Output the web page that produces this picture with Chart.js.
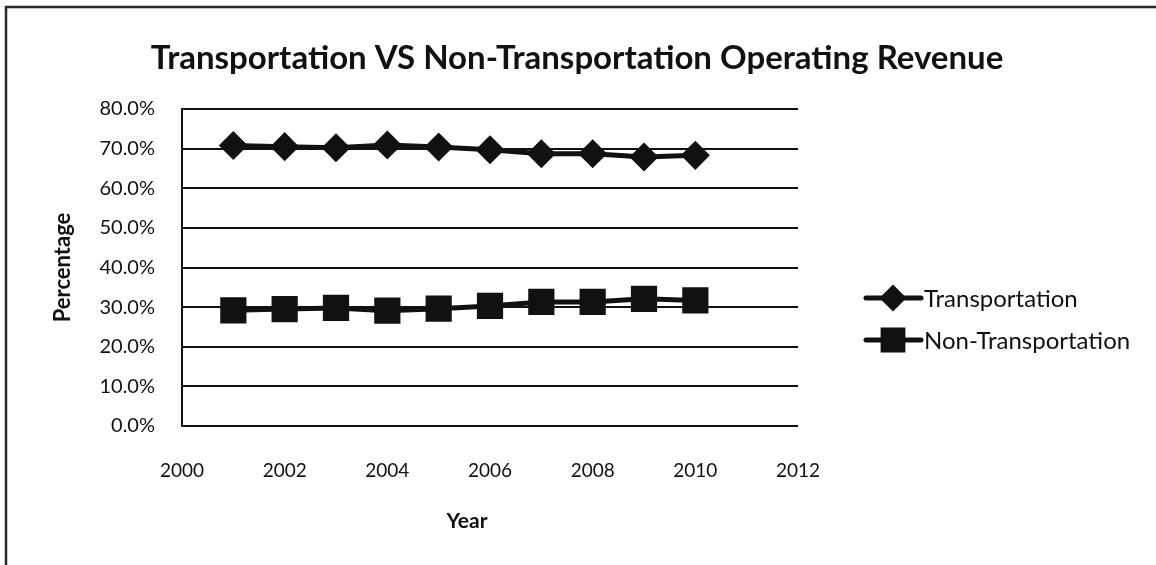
<!DOCTYPE html>
<html>
<head>
<meta charset="utf-8">
<style>
  html, body { margin: 0; padding: 0; background: #ffffff; }
  #wrap { width: 1156px; height: 565px; position: relative; }
</style>
<script src="https://cdn.jsdelivr.net/npm/chart.js@4/dist/chart.umd.min.js"></script>
</head>
<body>
<div id="wrap"><canvas id="chart" width="1156" height="565"></canvas></div>
<script>
// Share of operating revenue by source, per year (%)
const years = [2001, 2002, 2003, 2004, 2005, 2006, 2007, 2008, 2009, 2010];
const transportation = [70.8, 70.5, 70.2, 70.9, 70.4, 69.7, 68.7, 68.7, 67.9, 68.3];
const nonTransportation = [29.2, 29.5, 29.8, 29.1, 29.6, 30.3, 31.3, 31.3, 32.1, 31.7];
const seriesNames = ['Transportation', 'Non-Transportation'];
const titleText = 'Transportation VS Non-Transportation Operating Revenue';
const xTitle = 'Year';
const yTitle = 'Percentage';

const FONT = 'Lato, "Open Sans", sans-serif';
const INK = '#111111';

// Frame around the whole chart object
const framePlugin = {
  id: 'frame',
  beforeDraw(chart) {
    const ctx = chart.ctx;
    ctx.save();
    ctx.fillStyle = '#ffffff';
    ctx.fillRect(0, 0, chart.width, chart.height);
    ctx.strokeStyle = '#2a2a2a';
    ctx.lineWidth = 2.5;
    ctx.beginPath();
    ctx.moveTo(6, chart.height + 5);
    ctx.lineTo(6, 7);
    ctx.lineTo(chart.width + 5, 7);
    ctx.stroke();
    ctx.restore();
  }
};

// Chart heading and x-axis caption, centred on the whole chart object
const headings = {
  id: 'headings',
  afterDraw(chart) {
    const ctx = chart.ctx;
    ctx.save();
    ctx.fillStyle = INK;
    ctx.textAlign = 'center';
    ctx.textBaseline = 'middle';
    ctx.font = 'bold 33px ' + FONT;
    ctx.fillText(titleText, 577, 58);
    ctx.font = 'bold 21px ' + FONT;
    ctx.fillText(xTitle, 467, 521);
    ctx.restore();
  }
};

// Line-and-marker legend to the right of the plot
const sideLegend = {
  id: 'sideLegend',
  afterDraw(chart) {
    const ctx = chart.ctx;
    const rows = [298, 340];
    chart.data.datasets.forEach((ds, i) => {
      const y = rows[i];
      ctx.save();
      ctx.strokeStyle = ds.borderColor;
      ctx.lineWidth = ds.borderWidth;
      ctx.lineCap = 'round';
      ctx.beginPath();
      ctx.moveTo(866, y);
      ctx.lineTo(921, y);
      ctx.stroke();
      Chart.helpers.drawPoint(ctx, {
        pointStyle: ds.pointStyle,
        radius: ds.pointRadius - 1,
        borderWidth: 1
      }, 893, y);
      ctx.fillStyle = ds.pointBackgroundColor;
      ctx.fill();
      ctx.fillStyle = INK;
      ctx.font = '24px ' + FONT;
      ctx.textBaseline = 'middle';
      ctx.textAlign = 'left';
      ctx.fillText(ds.label, 924, y + 1);
      ctx.restore();
    });
  }
};

const makePoints = (vals) => vals.map((v, i) => ({ x: years[i], y: v }));

new Chart(document.getElementById('chart'), {
  type: 'line',
  data: {
    datasets: [
      {
        label: seriesNames[0],
        data: makePoints(transportation),
        borderColor: INK,
        backgroundColor: INK,
        pointBackgroundColor: INK,
        pointBorderColor: INK,
        borderWidth: 5,
        pointStyle: 'rectRot',
        pointRadius: 11,
        tension: 0
      },
      {
        label: seriesNames[1],
        data: makePoints(nonTransportation),
        borderColor: INK,
        backgroundColor: INK,
        pointBackgroundColor: INK,
        pointBorderColor: INK,
        borderWidth: 5,
        pointStyle: 'rect',
        pointRadius: 15,
        tension: 0
      }
    ]
  },
  options: {
    responsive: false,
    animation: false,
    events: [],
    layout: { padding: { left: 50, right: 358, top: 109, bottom: 31 } },
    plugins: {
      legend: { display: false },
      tooltip: { enabled: false },
      title: { display: false }
    },
    scales: {
      x: {
        type: 'linear',
        min: 2000,
        max: 2012,
        afterFit(scale) { scale.height = 108; },
        ticks: {
          stepSize: 2,
          color: INK,
          padding: 33,
          font: { family: FONT, size: 19 },
          callback: (v) => String(v)
        },
        grid: { display: false, drawTicks: false },
        border: { display: false }
      },
      y: {
        min: 0,
        max: 80,
        afterFit(scale) { scale.width = 132; },
        ticks: {
          stepSize: 10,
          color: INK,
          padding: 27,
          font: { family: FONT, size: 20 },
          callback: (v) => v.toFixed(1) + '%'
        },
        grid: { color: INK, lineWidth: 2, drawTicks: false },
        border: { display: true, color: INK, width: 2 },
        title: {
          display: true,
          text: yTitle,
          color: INK,
          font: { family: FONT, size: 22, weight: 'bold' },
          padding: 0
        }
      }
    }
  },
  plugins: [framePlugin, sideLegend, headings]
});
</script>
</body>
</html>
